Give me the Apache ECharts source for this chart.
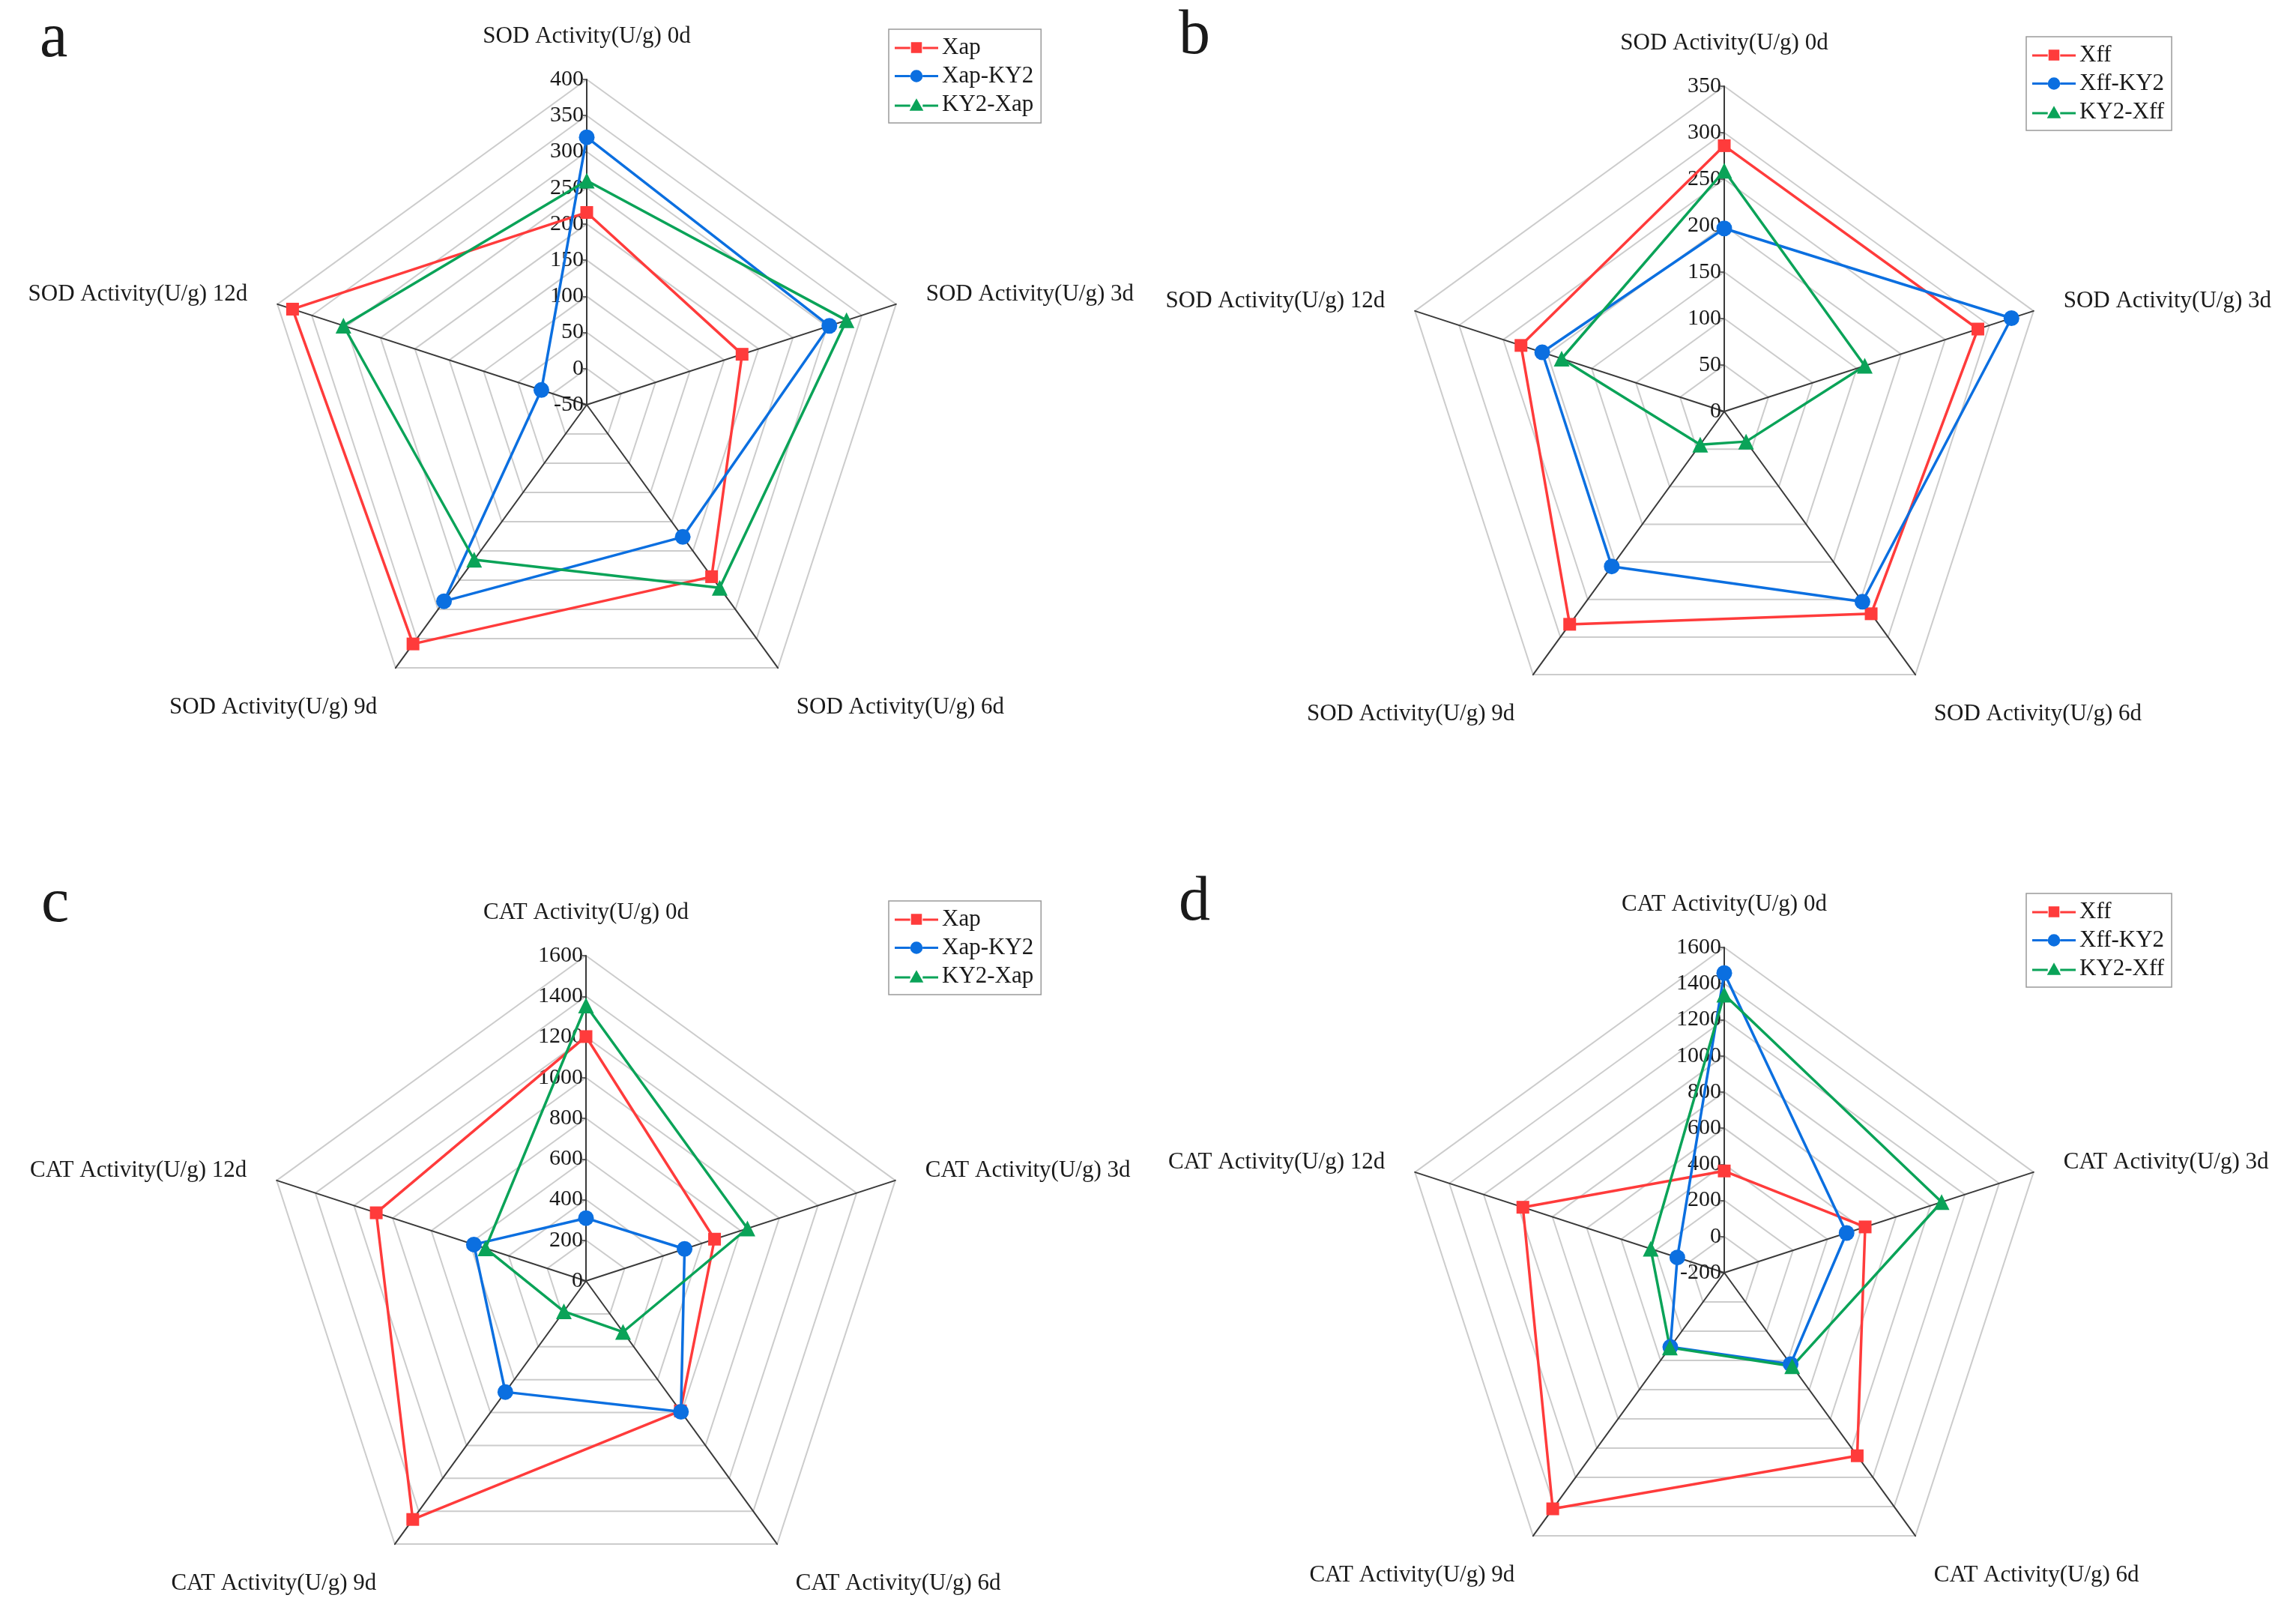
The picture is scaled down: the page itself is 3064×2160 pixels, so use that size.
<!DOCTYPE html>
<html><head><meta charset="utf-8">
<script src="https://cdn.jsdelivr.net/npm/echarts@6/dist/echarts.min.js"></script>
<style>html,body{margin:0;padding:0;background:#fff}#c{width:3064px;height:2160px}</style>
</head><body><div id="c"></div><script>
// ---- data ----
const days = ['0d', '3d', '6d', '9d', '12d'];
const sodXap    = [216, 176, 244, 359, 378];
const sodXapKY2 = [320, 303, 176, 286, 16];
const sodKY2Xap = [260, 328, 263, 215, 304];
const sodXff    = [286, 287, 269, 283, 230];
const sodXffKY2 = [197, 325, 253, 206, 206];
const sodKY2Xff = [259, 159, 40, 44, 184];
const catXap    = [1202, 665, 790, 1450, 1085];
const catXapKY2 = [309, 510, 795, 675, 580];
const catKY2Xap = [1355, 835, 310, 185, 520];
const catXff    = [363, 620, 1052, 1415, 972];
const catXffKY2 = [1458, 512, 425, 308, 73];
const catKY2Xff = [1339, 1065, 440, 312, 228];
const namesXap = ['Xap', 'Xap-KY2', 'KY2-Xap'];
const namesXff = ['Xff', 'Xff-KY2', 'KY2-Xff'];
// axis ranges [min, max, step]
const rangeA = [-50, 400, 50];
const rangeB = [0, 350, 50];
const rangeC = [0, 1600, 200];
const rangeD = [-200, 1600, 200];

// ---- styles / layout ----
const FONT = 'Liberation Serif';
const colors = ['#FF3B3B', '#0B6FE0', '#0AA358'];
const symbols = ['rect', 'circle', 'triangle'];
const symSizes = [17, 21, 21];
const icons = [
  'path://M0,7h20v3h-20z M36,7h20v3h-20z M21,1h14v14h-14z',
  'path://M0,7h20v3h-20z M36,7h20v3h-20z M20,8.5a8,8 0 1,0 16,0a8,8 0 1,0 -16,0z',
  'path://M0,8h20v3h-20z M36,8h20v3h-20z M28,0L37,16L19,16z'
];
const panels = [
  {letter: 'a', enz: 'SOD', range: rangeA, names: namesXap, vals: [sodXap, sodXapKY2, sodKY2Xap],
   center: [783, 540], letterPos: [48, 6], legendPos: [1186, 39]},
  {letter: 'b', enz: 'SOD', range: rangeB, names: namesXff, vals: [sodXff, sodXffKY2, sodKY2Xff],
   center: [2301, 549], letterPos: [1568, 2], legendPos: [2704, 49]},
  {letter: 'c', enz: 'CAT', range: rangeC, names: namesXap, vals: [catXap, catXapKY2, catKY2Xap],
   center: [782, 1709], letterPos: [50, 1160], legendPos: [1186, 1202]},
  {letter: 'd', enz: 'CAT', range: rangeD, names: namesXff, vals: [catXff, catXffKY2, catKY2Xff],
   center: [2301, 1698], letterPos: [1568, 1158], legendPos: [2704, 1192]}
];
const RADIUS = 434;
// ECharts places indicators counter-clockwise; the reference runs clockwise.
const order = [0, 4, 3, 2, 1];
const lowerDays = ['6d', '9d'];

const radar = panels.map(p => ({
  center: p.center,
  radius: RADIUS,
  startAngle: 90,
  shape: 'polygon',
  splitNumber: Math.round((p.range[1] - p.range[0]) / p.range[2]),
  axisName: {
    color: '#1a1a1a', fontSize: 31, fontFamily: FONT,
    rich: {
      gap: {height: 38, lineHeight: 38, fontSize: 10},
      n: {color: '#1a1a1a', fontSize: 31, fontFamily: FONT}
    },
    formatter: (name) => lowerDays.some(d => name.endsWith(' ' + d)) ? '{gap| }\n{n|' + name + '}' : name
  },
  axisNameGap: 42,
  splitArea: {show: false},
  splitLine: {lineStyle: {color: '#cccccc', width: 2}},
  axisLine: {lineStyle: {color: '#3a3a3a', width: 2}},
  axisTick: {show: false},
  axisLabel: {show: false},
  indicator: order.map((di, k) => {
    const ind = {name: p.enz + ' Activity(U/g) ' + days[di], min: p.range[0], max: p.range[1]};
    if (k === 0) {
      ind.axisLabel = {show: true, color: '#1a1a1a', fontSize: 30, fontFamily: FONT, margin: 4,
                       formatter: v => String(v)};
      ind.axisTick = {show: true, length: 5, lineStyle: {color: '#3a3a3a', width: 1.5}};
    }
    return ind;
  })
}));

const series = [];
panels.forEach((p, pi) => {
  p.names.forEach((nm, gi) => {
    series.push({
      type: 'radar', radarIndex: pi, name: nm,
      symbol: symbols[gi], symbolSize: symSizes[gi],
      lineStyle: {color: colors[gi], width: 3.5},
      itemStyle: {color: colors[gi]},
      data: [{name: nm, value: order.map(di => p.vals[gi][di])}]
    });
  });
});

const legend = panels.map(p => ({
  orient: 'vertical', left: p.legendPos[0], top: p.legendPos[1],
  itemWidth: 58, itemHeight: 17, itemGap: 7,
  padding: [9, 10, 9, 8],
  borderColor: '#9a9a9a', borderWidth: 1.5,
  textStyle: {color: '#1a1a1a', fontSize: 31, fontFamily: FONT},
  data: p.names.map((nm, gi) => ({name: nm, icon: icons[gi]}))
}));

const title = panels.map(p => ({
  text: p.letter, left: p.letterPos[0], top: p.letterPos[1],
  textStyle: {color: '#1a1a1a', fontSize: 84, fontWeight: 'normal', fontFamily: FONT}
}));

const chart = echarts.init(document.getElementById('c'));
chart.setOption({backgroundColor: '#ffffff', animation: false, title, legend, radar, series});
</script></body></html>
